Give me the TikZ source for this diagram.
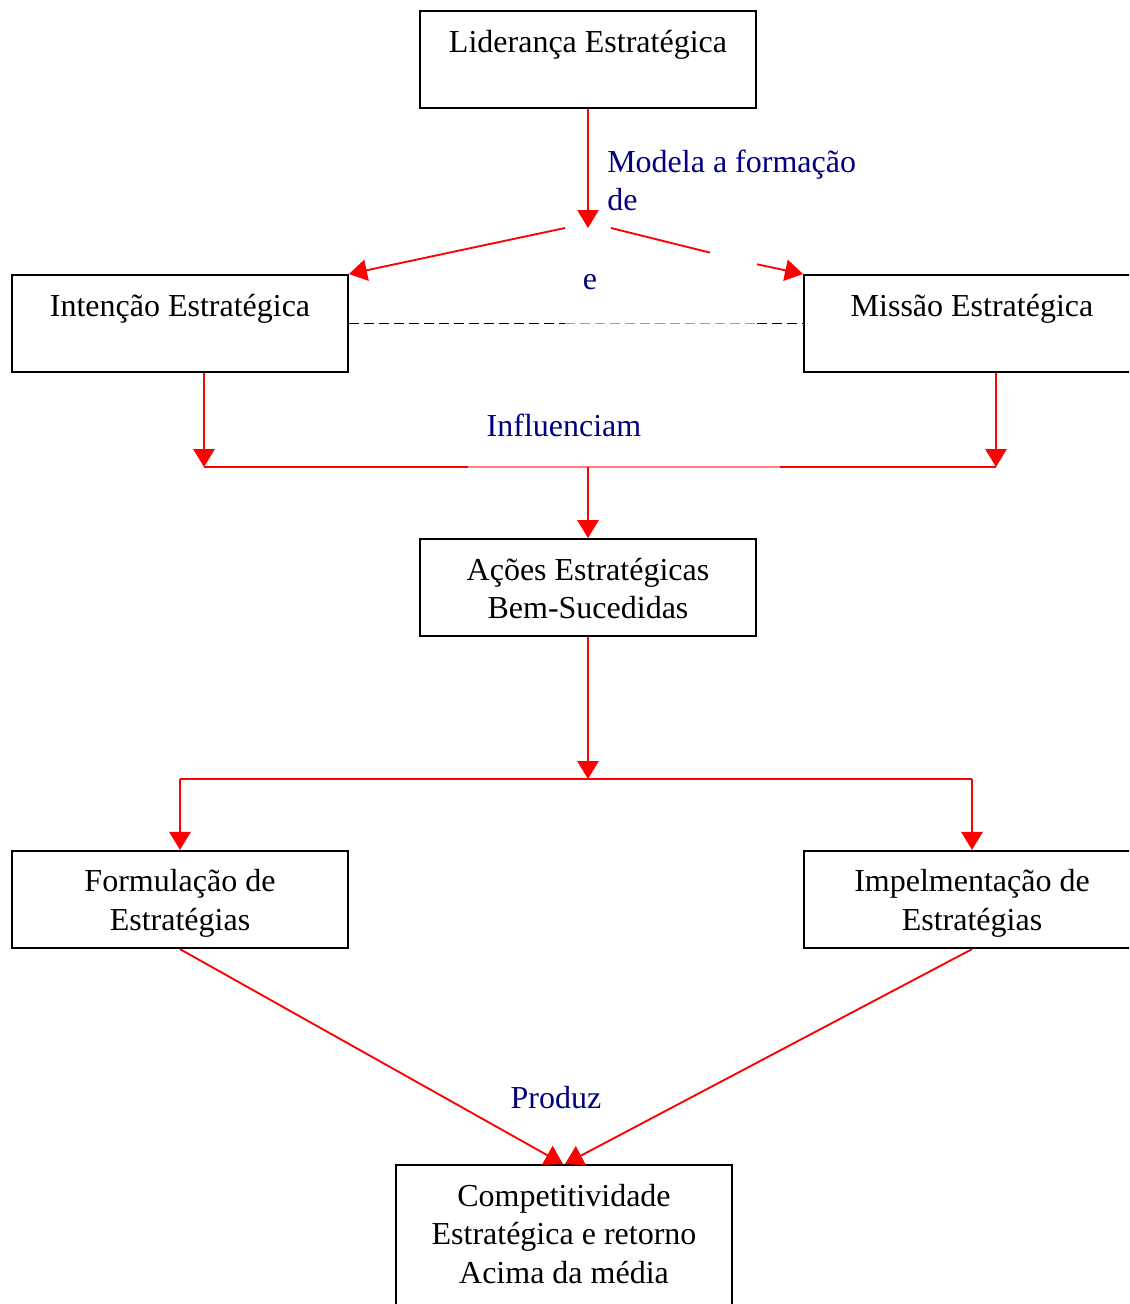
\documentclass[tikz,border=0pt]{standalone}
\usepackage{fontspec}
\setmainfont{Liberation Serif}
\usetikzlibrary{arrows.meta}
% line strut: every text line takes exactly one baselineskip
\newcommand\ls{\rule[-4.875pt]{0pt}{27.75pt}}
\definecolor{navy}{RGB}{0,0,128}
\definecolor{pinkline}{RGB}{255,128,128}
\begin{document}
\begin{tikzpicture}[x=0.75pt,y=-0.75pt,
  box/.style={draw=black, line width=1.4pt, align=center,
    minimum width=252pt, minimum height=71.25pt,
    inner xsep=4pt, inner ysep=8pt,
    font=\fontsize{24pt}{27.75pt}\selectfont},
  lbl/.style={text=navy, inner sep=0pt, font=\fontsize{24pt}{27.75pt}\selectfont},
  link/.style={draw=red, line width=1.4pt},
  arr/.style={link, -{Triangle[length=13.5pt,width=16pt]}},
  dashline/.style={line width=1.4pt, dash pattern=on 7.5pt off 3.75pt},
]
\useasboundingbox (0,0) rectangle (1129,1304);
\clip (0,0) rectangle (1129,1304);
\fill[white] (0,0) rectangle (1129,1304);

% boxes
\node[box] (lid) at (588,59.5) {Liderança Estratégica\ls\\\ls};
\node[box] (int) at (180,323.5) {Intenção Estratégica\ls\\\ls};
\node[box] (mis) at (972,323.5) {Missão Estratégica\ls\\\ls};
\node[box] (aco) at (588,587.5) {Ações Estratégicas\ls\\Bem-Sucedidas\ls};
\node[box] (for) at (180,899.5) {Formulação de\ls\\Estratégias\ls};
\node[box] (imp) at (972,899.5) {Impelmentação de\ls\\Estratégias\ls};
\node[box, anchor=north] (com) at (564,1164)
  {Competitividade\ls\\Estratégica e retorno\ls\\Acima da média\ls\\\ls};

% leadership shapes intent and mission
\coordinate (fork) at (588,228);
\coordinate (forkL) at (565,228);
\coordinate (forkR) at (611,228);
\coordinate (gapA) at (710,252.6);
\coordinate (gapB) at (757,264.3);
\draw[arr] (lid.south) -- (fork);
\draw[arr] (forkL) -- (int.north east);
\draw[link] (forkR) -- (gapA);
\draw[arr] (gapB) -- (mis.north west);

% dashed tie between intent and mission
\coordinate (dA) at (565,323.5);
\coordinate (dB) at (757,323.5);
\draw[dashline, black] (int.east) -- (dA);
\draw[dashline, gray!75, line width=0.9pt] (dA) -- (dB);
\draw[dashline, black] (dB) -- (mis.west);

% both influence the actions
\coordinate (jL) at (204,467);
\coordinate (jR) at (996,467);
\coordinate (jM) at (588,467);
\coordinate (hA) at (468,467);
\coordinate (hB) at (780,467);
\draw[arr] (int.south -| jL) -- (jL);
\draw[arr] (mis.south -| jR) -- (jR);
\draw[link] (jL) -- (hA);
\draw[draw=pinkline, line width=1.1pt] (hA) -- (hB);
\draw[link] (hB) -- (jR);
\draw[arr] (jM) -- (aco.north);

% actions split into formulation and implementation
\coordinate (split) at (588,779);
\coordinate (sL) at (180,779);
\coordinate (sR) at (972,779);
\draw[arr] (aco.south) -- (split);
\draw[link] (sL) -- (sR);
\draw[arr] (sL) -- (for.north);
\draw[arr] (sR) -- (imp.north);

% both produce competitiveness
\coordinate (cL) at (563,1164);
\coordinate (cR) at (565,1164);
\draw[arr] (for.south) -- (cL);
\draw[arr] (imp.south) -- (cR);

% labels
\node[lbl, anchor=north west, align=left] (modela) at (607,141.5) {Modela a formação\ls\\de\ls};
\node[lbl, anchor=base] (e) at (590,289) {e};
\node[lbl, anchor=base] (infl) at (564,436) {Influenciam};
\node[lbl, anchor=base] (prod) at (556,1108) {Produz};
\end{tikzpicture}
\end{document}
